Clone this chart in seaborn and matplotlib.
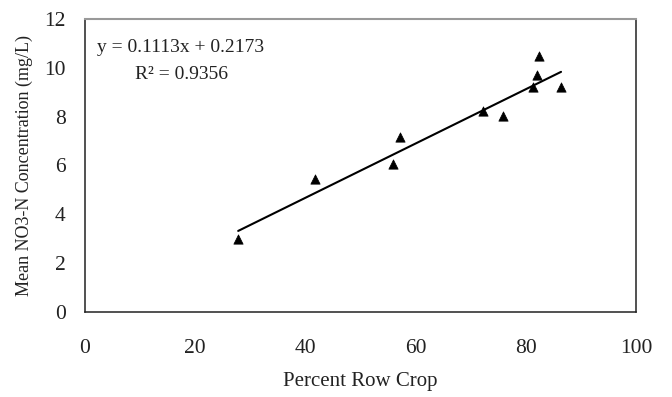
import numpy as np
import pandas as pd
import matplotlib
matplotlib.use("Agg")
import matplotlib.pyplot as plt
import seaborn as sns

# values
row_crop = [27.8, 41.7, 55.9, 57.2, 72.2, 75.9, 81.3, 82.0, 82.4, 86.4]
no3n = [3.0, 5.45, 6.05, 7.15, 8.22, 8.02, 9.22, 9.72, 10.5, 9.22]
slope = 0.1113
intercept = 0.2173
r_squared = 0.9356
x_ticks = [0, 20, 40, 60, 80, 100]
y_ticks = [0, 2, 4, 6, 8, 10, 12]

df = pd.DataFrame({"Percent Row Crop": row_crop, "NO3": no3n})

sns.set_style("white")
plt.rcParams["font.family"] = ["Liberation Serif", "DejaVu Serif"]

fig = plt.figure(figsize=(6.72, 3.97), dpi=100)
ax = fig.add_axes([0.1265, 0.2149, 0.8199, 0.7372])

# trend line from the fitted equation, over the range of the data
fit_x = np.array([min(row_crop), max(row_crop)])
fit_y = slope * fit_x + intercept
sns.lineplot(x=fit_x, y=fit_y, ax=ax, color="black", linewidth=1.5)

sns.scatterplot(data=df, x="Percent Row Crop", y="NO3", ax=ax, marker="^",
                s=45, color="black", edgecolor="black", linewidth=0.5, zorder=3)

ax.set_xlim(0, 100)
ax.set_ylim(0, 12)
ax.set_xticks(x_ticks)
ax.set_yticks(y_ticks)
ax.tick_params(axis="both", direction="out", length=4, width=1, color="black",
               labelsize=15.5, labelcolor="#222222")
ax.tick_params(axis="x", pad=16)
ax.tick_params(axis="y", pad=10)

ax.set_xlabel("Percent Row Crop", fontsize=15, color="#222222", labelpad=10)
ax.set_ylabel("Mean NO3-N Concentration (mg/L)", fontsize=13, color="#222222", labelpad=8)

for side in ["left", "right", "bottom"]:
    ax.spines[side].set_color("#222222")
    ax.spines[side].set_linewidth(1.1)
ax.spines["top"].set_color("#999999")
ax.spines["top"].set_linewidth(1.5)

ax.text(17.4, 10.85, f"y = {slope}x + {intercept}", ha="center", va="center",
        fontsize=14, color="#222222")
ax.text(17.6, 9.72, f"R² = {r_squared}", ha="center", va="center",
        fontsize=14, color="#222222")

fig.savefig("out.png", dpi=100)
plt.close(fig)
